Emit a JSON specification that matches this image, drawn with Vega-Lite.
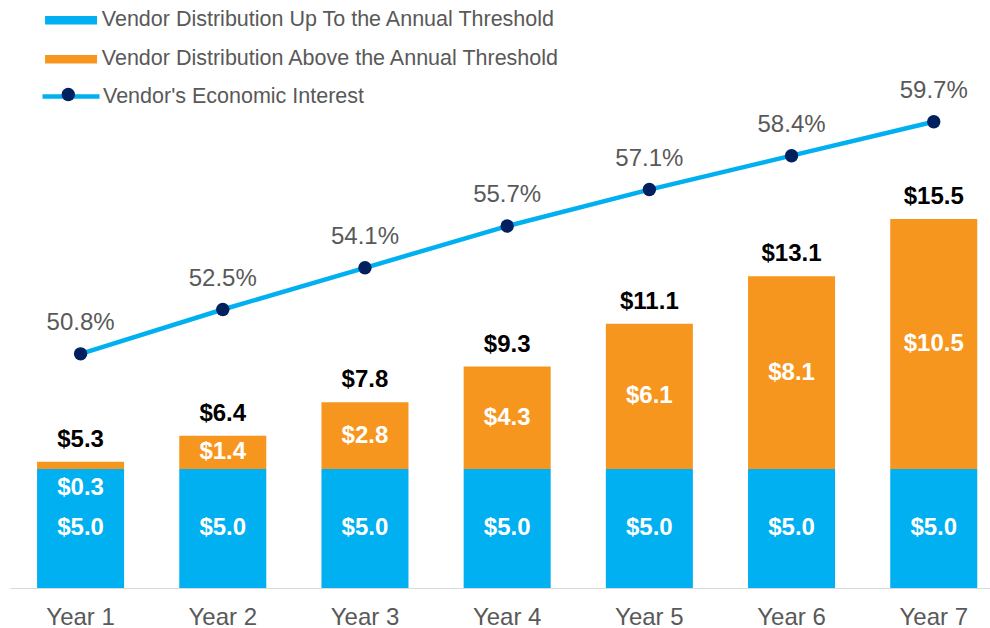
{
  "$schema": "https://vega.github.io/schema/vega-lite/v6.json",
  "width": 980,
  "height": 588,
  "autosize": {"type": "none"},
  "padding": {"left": 10, "top": 0, "right": 0, "bottom": 40},
  "config": {
    "font": "Liberation Sans",
    "view": {"stroke": null},
    "axis": {"grid": false}
  },
  "data": {
    "values": [
      {"year": "Year 1", "up": 5.0, "above": 0.3, "total": 5.3, "pct": 0.508},
      {"year": "Year 2", "up": 5.0, "above": 1.4, "total": 6.4, "pct": 0.525},
      {"year": "Year 3", "up": 5.0, "above": 2.8, "total": 7.8, "pct": 0.541},
      {"year": "Year 4", "up": 5.0, "above": 4.3, "total": 9.3, "pct": 0.557},
      {"year": "Year 5", "up": 5.0, "above": 6.1, "total": 11.1, "pct": 0.571},
      {"year": "Year 6", "up": 5.0, "above": 8.1, "total": 13.1, "pct": 0.584},
      {"year": "Year 7", "up": 5.0, "above": 10.5, "total": 15.5, "pct": 0.597}
    ]
  },
  "encoding": {
    "x": {
      "field": "year",
      "type": "nominal",
      "sort": null,
      "scale": {"paddingInner": 0.388, "paddingOuter": 0.14, "align": 0.68},
      "axis": {
        "title": null,
        "labelAngle": 0,
        "ticks": false,
        "domainColor": "#D9D9D9",
        "domainWidth": 1,
        "labelFontSize": 24,
        "labelColor": "#595959",
        "labelBaseline": "middle",
        "labelPadding": 29
      }
    }
  },
  "layer": [
    {
      "transform": [{"fold": ["up", "above"], "as": ["segment", "value"]}],
      "mark": {"type": "bar"},
      "encoding": {
        "y": {"field": "value", "type": "quantitative", "stack": "zero", "scale": {"domain": [0, 24.7]}, "axis": null},
        "color": {
          "field": "segment",
          "type": "nominal",
          "scale": {"domain": ["up", "above"], "range": ["#00B0F0", "#F7961E"]},
          "legend": {
            "orient": "none",
            "legendX": 50.3,
            "legendY": 9.5,
            "direction": "vertical",
            "title": null,
            "padding": 0,
            "symbolType": "M-3,-0.5H3V0.5H-3Z",
            "symbolSize": 300,
            "symbolStrokeWidth": 0,
            "labelFontSize": 21.5,
            "labelColor": "#595959",
            "labelOffset": 20,
            "rowPadding": 16,
            "labelLimit": 700,
            "labelExpr": "datum.value == 'up' ? 'Vendor Distribution Up To the Annual Threshold' : 'Vendor Distribution Above the Annual Threshold'"
          }
        },
        "order": {"field": "segment", "sort": "descending"}
      }
    },
    {
      "transform": [
        {"fold": ["up", "above"], "as": ["segment", "value"]}
      ],
      "mark": {"type": "text", "baseline": "middle", "fontWeight": "bold", "fontSize": 24, "color": "white"},
      "encoding": {
        "y": {"field": "value", "type": "quantitative", "stack": "zero", "bandPosition": 0.5, "scale": {"domain": [0, 24.7]}, "axis": null},
        "text": {"condition": {"test": "datum.segment == 'above' && datum.value < 1", "value": ""}, "field": "value", "type": "quantitative", "format": "$.1f"},
        "order": {"field": "segment", "sort": "descending"}
      }
    },
    {
      "transform": [{"filter": "datum.above < 1"}],
      "mark": {"type": "text", "baseline": "middle", "fontWeight": "bold", "fontSize": 24, "color": "white", "dy": 19},
      "encoding": {
        "y": {"field": "up", "type": "quantitative", "scale": {"domain": [0, 24.7]}, "axis": null},
        "text": {"field": "above", "type": "quantitative", "format": "$.1f"}
      }
    },
    {
      "mark": {"type": "text", "baseline": "alphabetic", "fontWeight": "bold", "fontSize": 24, "color": "black", "dy": -15},
      "encoding": {
        "y": {"field": "total", "type": "quantitative", "scale": {"domain": [0, 24.7]}, "axis": null},
        "text": {"field": "total", "type": "quantitative", "format": "$.1f"}
      }
    },
    {
      "mark": {"type": "line", "strokeWidth": 4.5},
      "encoding": {
        "y": {"field": "pct", "type": "quantitative", "scale": {"domain": [0.4182, 0.6437]}, "axis": null},
        "stroke": {
          "datum": "Vendor's Economic Interest",
          "scale": {"range": ["#00B0F0"]},
          "legend": {
            "orient": "none",
            "legendX": 49,
            "legendY": 84.5,
            "title": null,
            "padding": 0,
            "symbolType": "M-3,0H3",
            "symbolSize": 361,
            "symbolStrokeWidth": 4.5,
            "labelFontSize": 21.5,
            "labelColor": "#595959",
            "labelOffset": 20,
            "labelLimit": 700
          }
        }
      }
    },
    {
      "mark": {"type": "point", "filled": true, "color": "#002060", "size": 180, "opacity": 1},
      "encoding": {
        "y": {"field": "pct", "type": "quantitative", "scale": {"domain": [0.4182, 0.6437]}, "axis": null},
        "shape": {
          "datum": "dot",
          "scale": {"range": ["circle"]},
          "legend": {
            "orient": "none",
            "legendX": 51.3,
            "legendY": 87.5,
            "title": null,
            "padding": 0,
            "symbolSize": 180,
            "symbolFillColor": "#002060",
            "symbolStrokeColor": "#002060",
            "symbolStrokeWidth": 0,
            "labelExpr": "''"
          }
        }
      }
    },
    {
      "mark": {"type": "text", "baseline": "middle", "fontSize": 24, "color": "#595959", "dy": -31},
      "encoding": {
        "y": {"field": "pct", "type": "quantitative", "scale": {"domain": [0.4182, 0.6437]}, "axis": null},
        "text": {"field": "pct", "type": "quantitative", "format": ".1%"}
      }
    }
  ],
  "resolve": {"scale": {"y": "independent"}}
}
